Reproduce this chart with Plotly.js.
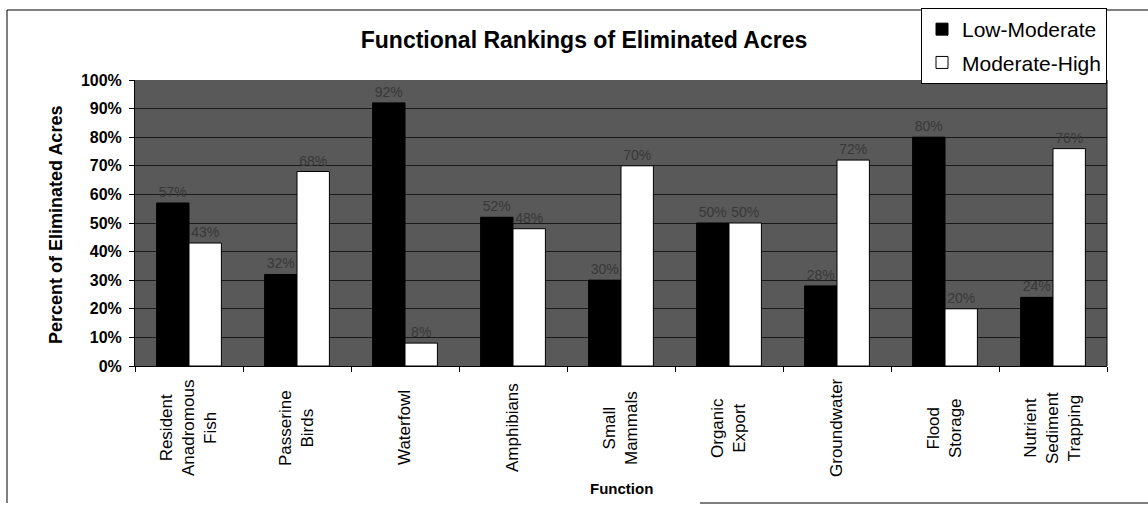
<!DOCTYPE html>
<html>
<head>
<meta charset="utf-8">
<script src="https://cdn.plot.ly/plotly-3.0.1.min.js"></script>
<style>
html,body{margin:0;padding:0;background:#fff;}
#chart{width:1148px;height:507px;}
</style>
</head>
<body>
<div id="chart"></div>
<script>
const categories = ["Resident Anadromous Fish","Passerine Birds","Waterfowl","Amphibians","Small Mammals","Organic Export","Groundwater","Flood Storage","Nutrient Sediment Trapping"];
const tickLabels = ["Resident<br>Anadromous<br>Fish","Passerine<br>Birds","Waterfowl","Amphibians","Small<br>Mammals","Organic<br>Export","Groundwater","Flood<br>Storage","Nutrient<br>Sediment<br>Trapping"];
const lowModerate = [57, 32, 92, 52, 30, 50, 28, 80, 24];
const moderateHigh = [43, 68, 8, 48, 70, 50, 72, 20, 76];
const seriesNames = ["Low-Moderate", "Moderate-High"];

const W = 1148, H = 507;
const M = {l: 135, r: 41, t: 80, b: 141, autoexpand: false};
const pw = W - M.l - M.r, ph = H - M.t - M.b;
const px2x = p => (p - M.l) / pw;
const py2y = p => (H - M.b - p) / ph;
const FONT = "Arial, 'Liberation Sans', sans-serif";

const labelFont = {family: FONT, size: 14, color: "#383838"};

const traces = [
  {type: "bar", name: seriesNames[0], x: categories, y: lowModerate, legendgroup: "a",
   marker: {color: "#000000", line: {color: "#000000", width: 1}},
   text: lowModerate.map(v => v + "%"), textposition: "outside", textfont: labelFont, cliponaxis: false},
  {type: "bar", name: seriesNames[1], x: categories, y: moderateHigh, legendgroup: "b",
   marker: {color: "#ffffff", line: {color: "#000000", width: 1}},
   text: moderateHigh.map(v => v + "%"), textposition: "outside", textfont: labelFont, cliponaxis: false}
];

const annotations = categories.map((c, i) => ({
  x: c, xref: "x", y: py2y(428), yref: "paper", text: tickLabels[i], showarrow: false,
  textangle: -90, align: "center", xanchor: "center", yanchor: "middle",
  font: {family: FONT, size: 17, color: "#000"}
}));
annotations.push({
  x: 0.5, xref: "paper", y: py2y(488), yref: "paper", text: "<b>Function</b>", showarrow: false,
  xanchor: "center", yanchor: "middle", font: {family: FONT, size: 15, color: "#000"}
});
annotations.push({
  x: px2x(56), xref: "paper", y: py2y(225), yref: "paper", text: "<b>Percent of Eliminated Acres</b>",
  showarrow: false, textangle: -90, xanchor: "center", yanchor: "middle",
  font: {family: FONT, size: 18, color: "#000"}
});

const layout = {
  width: W, height: H,
  margin: M,
  paper_bgcolor: "#ffffff",
  plot_bgcolor: "#595959",
  font: {family: FONT, color: "#000"},
  title: {text: "<b>Functional Rankings of Eliminated Acres</b>",
          font: {family: FONT, size: 23, color: "#000"},
          xref: "container", x: 584 / W, xanchor: "center",
          yref: "container", y: 1 - 40 / H, yanchor: "middle"},
  bargap: 0.4, bargroupgap: 0,
  showlegend: true,
  legend: {x: px2x(1107), xanchor: "right", y: py2y(8), yanchor: "top",
           bgcolor: "#ffffff", bordercolor: "#000", borderwidth: 1,
           font: {family: FONT, size: 21, color: "#000"},
           traceorder: "grouped", tracegroupgap: 3, itemwidth: 30},
  xaxis: {type: "category", showticklabels: false, ticks: "outside", tickson: "boundaries", ticklen: 5,
          tickcolor: "#000", showline: true, linecolor: "#000", linewidth: 1, showgrid: false},
  yaxis: {range: [0, 100], dtick: 10, ticksuffix: "%", ticks: "outside", ticklen: 5, tickcolor: "#000",
          ticklabelstandoff: 4,
          showline: true, linecolor: "#000", linewidth: 1, gridcolor: "#1a1a1a", gridwidth: 1,
          zeroline: false,
          tickfont: {family: FONT, size: 16, color: "#000", weight: "bold"}},
  annotations: annotations,
  shapes: [
    {type: "line", xref: "paper", yref: "paper", x0: px2x(7), x1: px2x(1148), y0: py2y(10), y1: py2y(10),
     line: {color: "#000", width: 1}},
    {type: "line", xref: "paper", yref: "paper", x0: px2x(7), x1: px2x(7), y0: py2y(10), y1: py2y(503),
     line: {color: "#000", width: 1}},
    {type: "line", xref: "paper", yref: "paper", x0: px2x(700), x1: px2x(1148), y0: py2y(503), y1: py2y(503),
     line: {color: "#000", width: 1}},
    {type: "line", xref: "paper", yref: "paper", x0: 1, x1: 1, y0: 0, y1: 1,
     line: {color: "#000", width: 1}}
  ]
};

Plotly.newPlot("chart", traces, layout, {displayModeBar: false, staticPlot: true});
</script>
</body>
</html>
